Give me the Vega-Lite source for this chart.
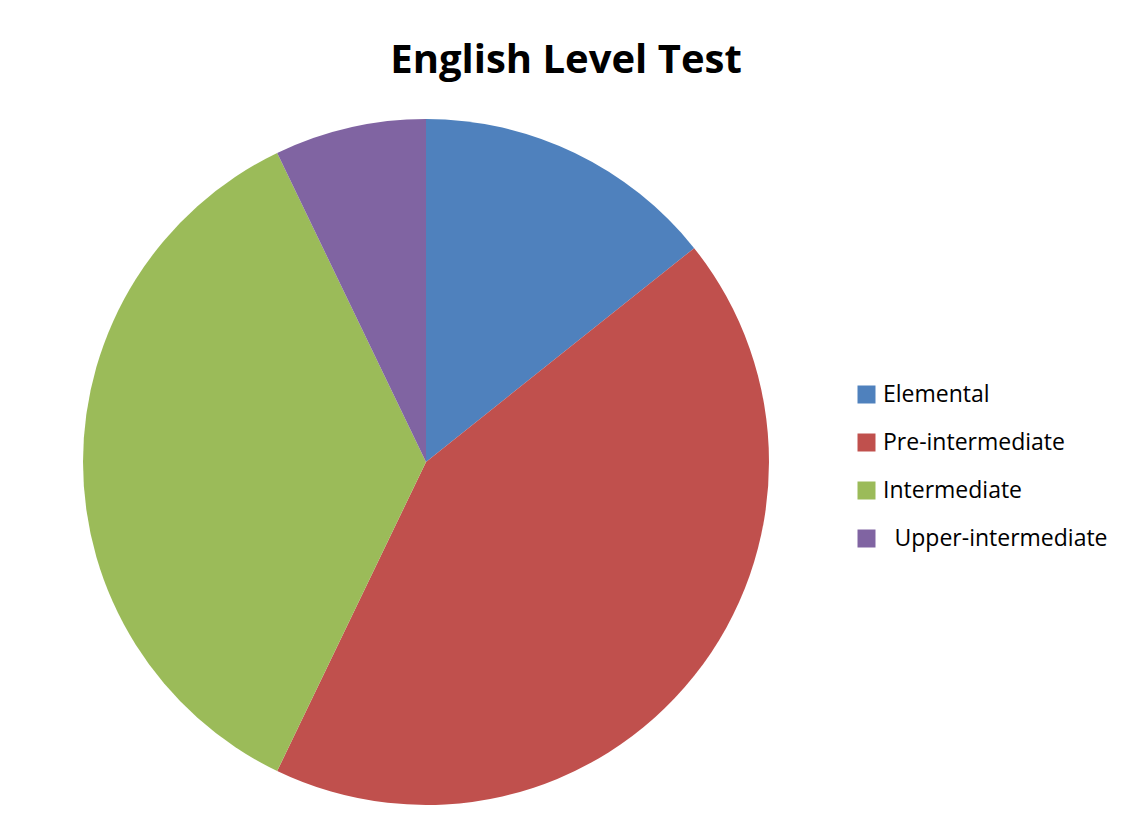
{
  "$schema": "https://vega.github.io/schema/vega-lite/v6.json",
  "width": 686,
  "height": 686,
  "padding": {"left": 83, "top": 119, "right": 352, "bottom": 28},
  "autosize": {"type": "none"},
  "background": "white",
  "title": {
    "text": "English Level Test",
    "font": "Open Sans",
    "fontSize": 40,
    "fontWeight": "bold",
    "color": "black",
    "anchor": "middle",
    "frame": "group",
    "baseline": "alphabetic",
    "offset": 6,
    "dx": 140
  },
  "data": {
    "values": [
      {"level": "Elemental", "students": 2, "k": 1},
      {"level": "Pre-intermediate", "students": 6, "k": 2},
      {"level": "Intermediate", "students": 5, "k": 3},
      {"level": "\u200b\u2002Upper-intermediate", "students": 1, "k": 4}
    ]
  },
  "mark": {"type": "arc"},
  "encoding": {
    "theta": {"field": "students", "type": "quantitative", "stack": true},
    "order": {"field": "k", "type": "quantitative"},
    "color": {
      "field": "level",
      "type": "nominal",
      "scale": {
        "domain": ["Elemental", "Pre-intermediate", "Intermediate", "\u200b\u2002Upper-intermediate"],
        "range": ["#4F81BD", "#C0504D", "#9BBB59", "#8064A2"]
      },
      "legend": {
        "title": null,
        "orient": "none",
        "legendX": 772,
        "legendY": 264,
        "symbolType": "square",
        "symbolSize": 324,
        "symbolStrokeWidth": 0,
        "labelFont": "Open Sans",
        "labelFontSize": 23,
        "labelLimit": 400,
        "labelColor": "black",
        "labelOffset": 5,
        "rowPadding": 24
      }
    }
  },
  "config": {"view": {"stroke": null}}
}
